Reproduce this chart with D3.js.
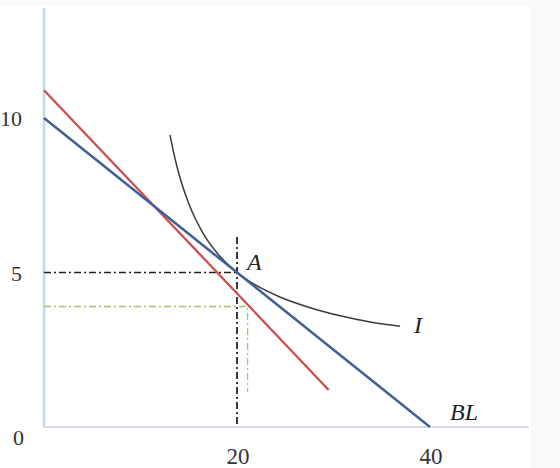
<!DOCTYPE html>
<html><head><meta charset="utf-8">
<script src="https://cdn.jsdelivr.net/npm/d3@7"></script>
<style>html,body{margin:0;padding:0;background:#f9f9f9;}svg{display:block;}</style>
</head><body>
<svg id="c" width="560" height="468"></svg>
<script>
// ---- data ----
const xTicks = [20, 40];
const yTicks = [5, 10];
const originLabel = "0";
const blueLine = [[0, 10], [40, 0]];          // BL
const redLine = [[0, 10.9], [29.5, 1.2]];
const indiffCurve = [[13.06, 9.45], [13.4, 8.93], [14, 8.17], [15, 7.23], [16.5, 6.26], [18, 5.61],
  [20, 5.0], [22, 4.58], [24.5, 4.2], [27.5, 3.87], [30.7, 3.6], [33.8, 3.4], [36.9, 3.26]];
const blackGuideH = [[0, 5], [20, 5]];
const blackGuideV = [[20, 6.15], [20, 0]];
const greenGuide = [[0, 3.9], [21.1, 3.9], [21.1, 1.13]];
const labels = [{t: "A", x: 20, y: 5}, {t: "I", x: 36.9, y: 3.24}, {t: "BL", x: 40, y: 0}];

// ---- drawing ----
const svg = d3.select("#c");
svg.append("rect").attr("x", 0).attr("y", 6).attr("width", 531).attr("height", 462).attr("fill", "#fff");

const x = d3.scaleLinear().domain([0, 40]).range([44, 430]);
const y = d3.scaleLinear().domain([0, 10]).range([427, 118]);
const line = d3.line().x(d => x(d[0])).y(d => y(d[1]));

// axes
svg.append("line").attr("x1", x(0)).attr("x2", x(0)).attr("y1", 8).attr("y2", y(0))
  .attr("stroke", "#c6d6ec").attr("stroke-width", 2.5);
svg.append("line").attr("x1", x(0)).attr("x2", 529).attr("y1", y(0)).attr("y2", y(0))
  .attr("stroke", "#c9d0da").attr("stroke-width", 1.5);

// guides
svg.append("path").attr("d", line(greenGuide)).attr("fill", "none")
  .attr("stroke", "#a8c46a").attr("stroke-width", 1.3).attr("stroke-dasharray", "7,3,2,3");
svg.append("path").attr("d", line(blackGuideH)).attr("fill", "none")
  .attr("stroke", "#222").attr("stroke-width", 1.5).attr("stroke-dasharray", "7,3,2,3");
svg.append("path").attr("d", line(blackGuideV)).attr("fill", "none")
  .attr("stroke", "#222").attr("stroke-width", 1.8).attr("stroke-dasharray", "7,3,2,3");

// curve
svg.append("path").attr("d", d3.line().x(d => x(d[0])).y(d => y(d[1])).curve(d3.curveMonotoneX)(indiffCurve))
  .attr("fill", "none").attr("stroke", "#3a3a3a").attr("stroke-width", 1.5);

// lines
svg.append("path").attr("d", line(redLine)).attr("fill", "none")
  .attr("stroke", "#c9504d").attr("stroke-width", 2.3);
svg.append("path").attr("d", line(blueLine)).attr("fill", "none")
  .attr("stroke", "#3f5f94").attr("stroke-width", 2.5);

// tick labels
const font = "'Liberation Serif', 'Times New Roman', serif";
const g = svg.append("g").attr("font-family", font).attr("fill", "#333");
g.selectAll(".yt").data(yTicks).join("text").attr("font-size", 22).attr("x", 22).attr("y", d => y(d) + 8)
  .attr("text-anchor", "end").text(d => d);
g.append("text").attr("font-size", 22).attr("x", 24).attr("y", y(0) + 18).attr("text-anchor", "end").text(originLabel);
g.selectAll(".xt").data(xTicks).join("text").attr("font-size", 23).attr("x", d => x(d) + 1).attr("y", y(0) + 37)
  .attr("text-anchor", "middle").text(d => d);

// annotations
const offs = {A: [10, -3], I: [14, 6], BL: [20, -7]};
svg.append("g").attr("font-family", font).attr("font-size", 24).attr("font-style", "italic").attr("fill", "#222")
  .selectAll("text").data(labels).join("text")
  .attr("x", d => x(d.x) + offs[d.t][0]).attr("y", d => y(d.y) + offs[d.t][1]).text(d => d.t);
</script>
</body></html>
